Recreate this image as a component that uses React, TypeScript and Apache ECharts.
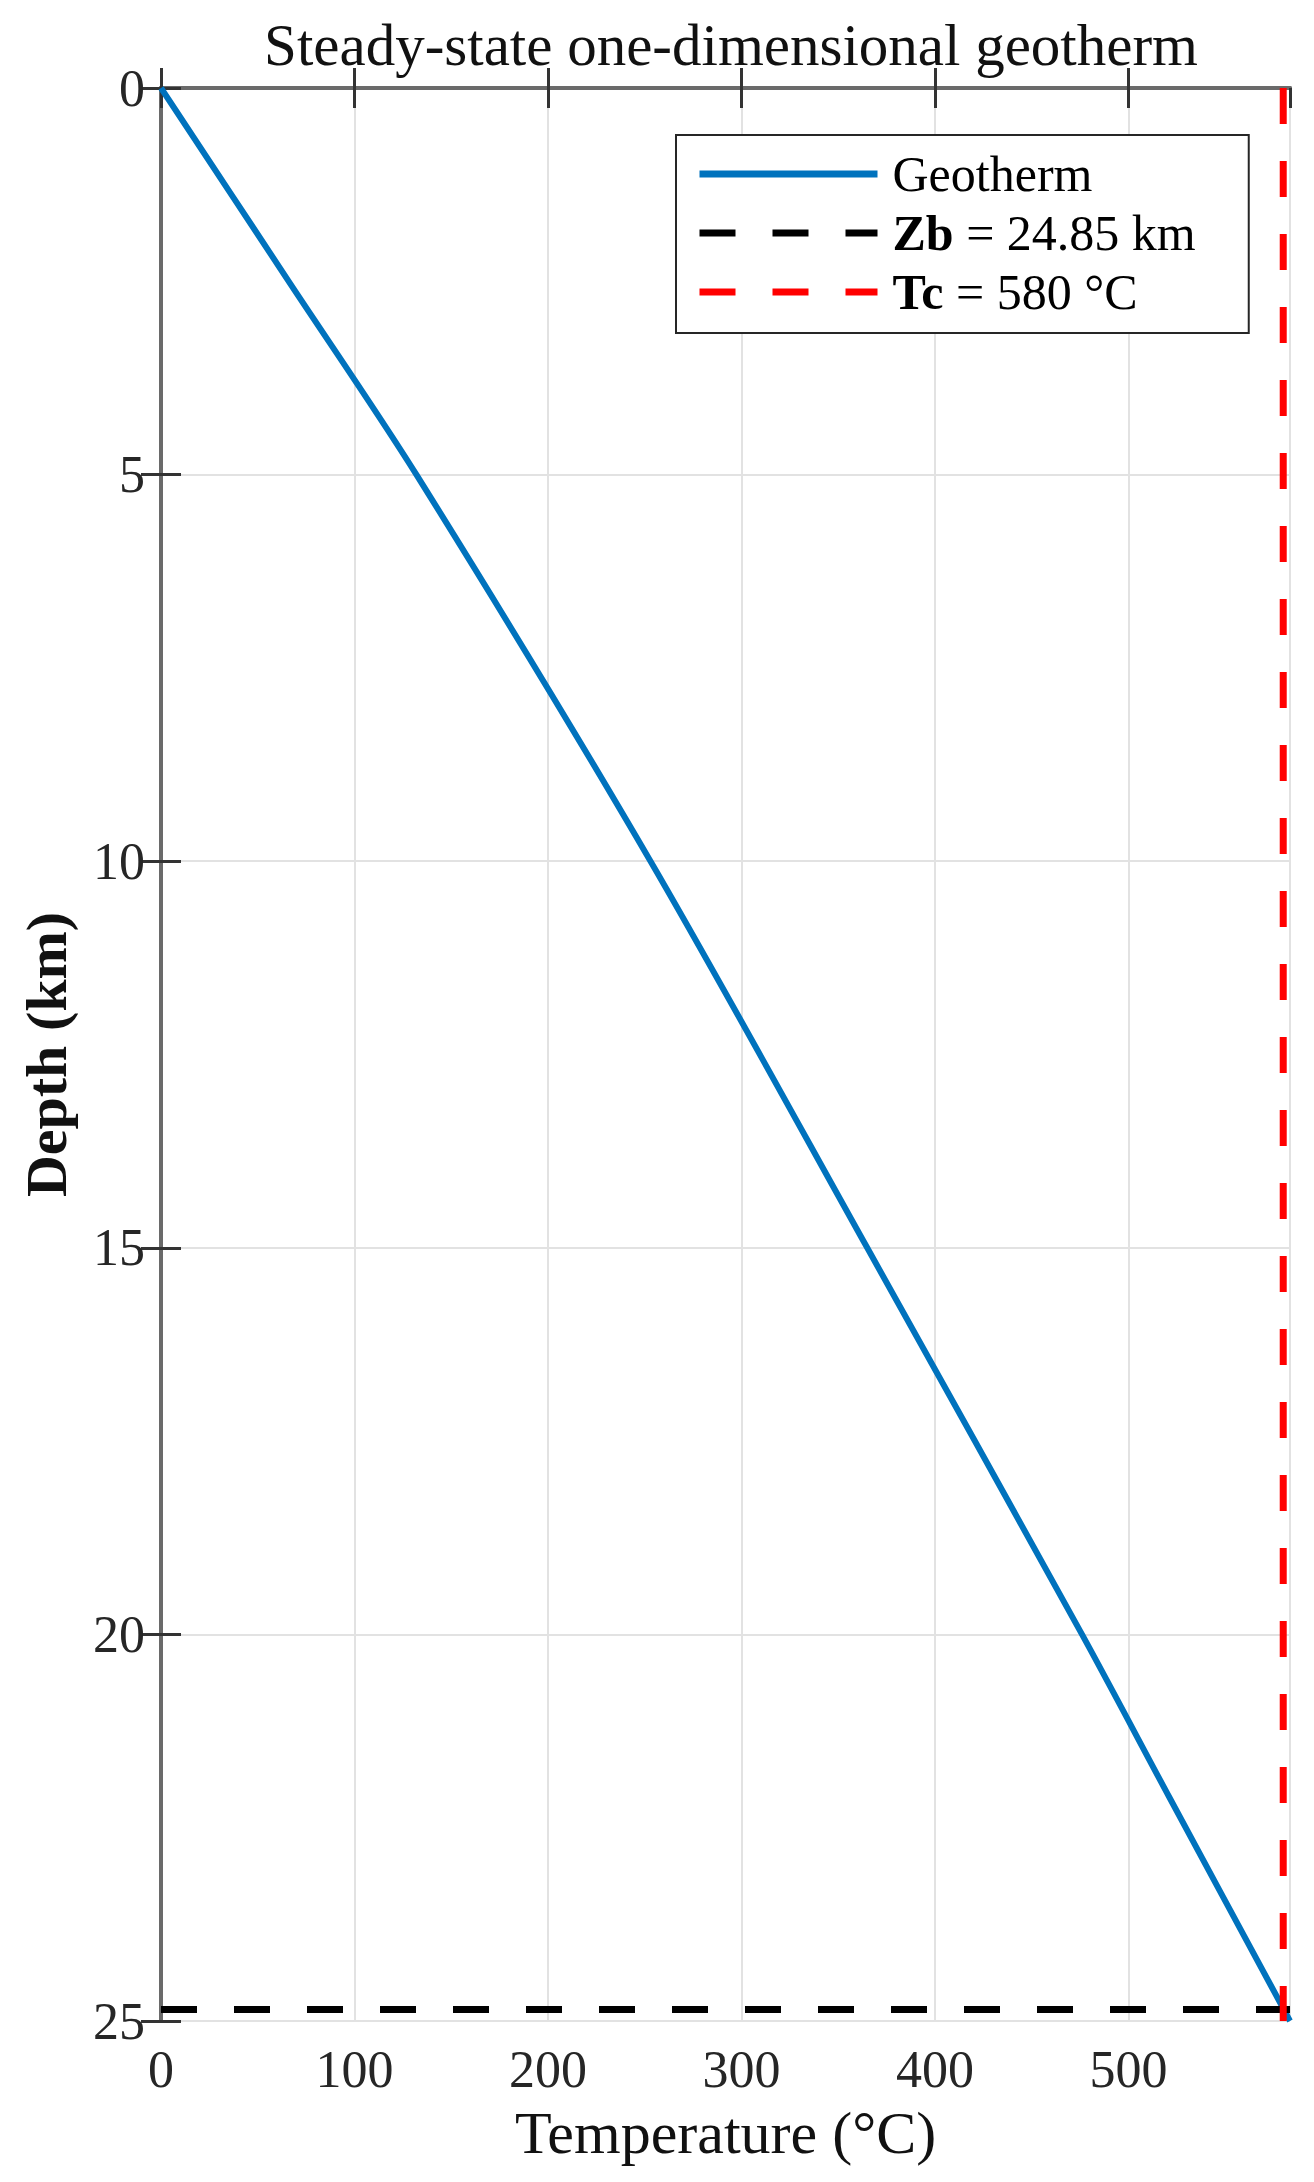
import React, { useEffect, useRef } from "react";
import * as echarts from "echarts";

// Geotherm: depth (km) and temperature (°C)
const depthKm = [0, 2.5, 5, 10, 15, 20, 22.1, 25];
const tempC = [0, 66, 132, 253, 365, 476, 521, 583.5];

const ZB_KM = 24.85; // Curie depth
const TC_C = 580; // Curie temperature
const X_MAX = 583.5;
const Y_MAX = 25;

const seriesNames = ["Geotherm", "Zb = 24.85 km", "Tc = 580 °C"];
const TITLE = "Steady-state one-dimensional geotherm";
const X_NAME = "Temperature (°C)";
const Y_NAME = "Depth (km)";

const FONT = "Liberation Serif";

export default function App() {
  const ref = useRef<HTMLDivElement>(null);

  useEffect(() => {
    if (!ref.current) return;
    const chart = echarts.init(ref.current, null, { renderer: "svg" });

    const geothermData = depthKm.map((d, i) => [tempC[i], d]);
    const zbData = [
      [0, ZB_KM],
      [X_MAX, ZB_KM],
    ];
    const tcData = [
      [TC_C, 0],
      [TC_C, Y_MAX],
    ];

    const axisLineStyle = { color: "#6a6a6a", width: 4 };
    const tickStyle = { color: "#333", width: 3 };

    const option: any = {
      animation: false,
      backgroundColor: "#fff",
      title: {
        text: TITLE,
        left: 726,
        textAlign: "center",
        top: 10,
        textStyle: {
          fontFamily: FONT,
          fontSize: 59,
          fontWeight: "normal",
          color: "#111",
        },
      },
      grid: { left: 161, right: 24, top: 88, bottom: 161, containLabel: false },
      legend: {
        orient: "vertical",
        left: 676,
        top: 135,
        data: seriesNames,
        itemWidth: 178,
        itemHeight: 20,
        itemGap: 9,
        padding: [14, 53, 16, 20],
        backgroundColor: "#fff",
        borderColor: "#262626",
        borderWidth: 2,
        borderRadius: 0,
        itemStyle: { opacity: 0 },
        lineStyle: { width: 7 },
        formatter: (name: string) => {
          if (name === seriesNames[0]) return name;
          const parts = name.split(" ");
          return `{b|${parts[0]}} ${parts.slice(1).join(" ")}`;
        },
        textStyle: {
          fontFamily: FONT,
          fontSize: 50,
          color: "#000",
          padding: [0, 0, 0, 10],
          rich: {
            b: { fontFamily: FONT, fontSize: 50, fontWeight: "bold", color: "#000" },
          },
        },
      },
      xAxis: [
        {
          type: "value",
          position: "bottom",
          min: 0,
          max: X_MAX,
          interval: 100,
          name: X_NAME,
          nameLocation: "middle",
          nameGap: 82,
          nameTextStyle: { fontFamily: FONT, fontSize: 60, color: "#111" },
          axisLine: { show: true, lineStyle: axisLineStyle },
          axisTick: { show: true, inside: true, length: 20, lineStyle: tickStyle },
          axisLabel: {
            fontFamily: FONT,
            fontSize: 52,
            color: "#262626",
            margin: 22,
            showMaxLabel: false,
            formatter: (v: number) => (v % 100 === 0 ? String(v) : ""),
          },
          splitLine: { show: true, lineStyle: { color: "#e2e2e2", width: 2 } },
        },
        {
          type: "value",
          position: "top",
          min: 0,
          max: X_MAX,
          interval: 100,
          axisLine: { show: true, lineStyle: axisLineStyle },
          axisTick: { show: true, inside: true, length: 20, lineStyle: tickStyle },
          axisLabel: { show: false },
          splitLine: { show: false },
        },
      ],
      yAxis: [
        {
          type: "value",
          position: "left",
          inverse: true,
          min: 0,
          max: Y_MAX,
          interval: 5,
          name: Y_NAME,
          nameLocation: "middle",
          nameGap: 86,
          nameTextStyle: { fontFamily: FONT, fontSize: 58, fontWeight: "bold", color: "#111" },
          axisLine: { show: true, lineStyle: axisLineStyle },
          axisTick: { show: true, inside: true, length: 20, lineStyle: tickStyle },
          axisLabel: { fontFamily: FONT, fontSize: 52, color: "#262626", margin: 16 },
          splitLine: { show: true, lineStyle: { color: "#e2e2e2", width: 2 } },
        },
        {
          type: "value",
          position: "right",
          inverse: true,
          min: 0,
          max: Y_MAX,
          interval: 5,
          axisLine: { show: true, lineStyle: axisLineStyle },
          axisTick: { show: true, inside: true, length: 20, lineStyle: tickStyle },
          axisLabel: { show: false },
          splitLine: { show: false },
        },
      ],
      series: [
        {
          name: seriesNames[0],
          type: "line",
          data: geothermData,
          showSymbol: false,
          symbol: "none",
          smooth: 0.3,
          lineStyle: { color: "#0072BD", width: 6 },
          itemStyle: { color: "#0072BD" },
        },
        {
          name: seriesNames[1],
          type: "line",
          data: zbData,
          showSymbol: false,
          symbol: "none",
          lineStyle: { color: "#000", width: 7, type: [36, 37] },
          itemStyle: { color: "#000" },
        },
        {
          name: seriesNames[2],
          type: "line",
          data: tcData,
          showSymbol: false,
          symbol: "none",
          lineStyle: { color: "#ff0000", width: 7, type: [36, 37] },
          itemStyle: { color: "#ff0000" },
        },
      ],
    };

    chart.setOption(option);
    return () => chart.dispose();
  }, []);

  return (
    <div
      ref={ref}
      style={{ position: "absolute", left: 0, top: 0, width: 1314, height: 2182 }}
    />
  );
}
